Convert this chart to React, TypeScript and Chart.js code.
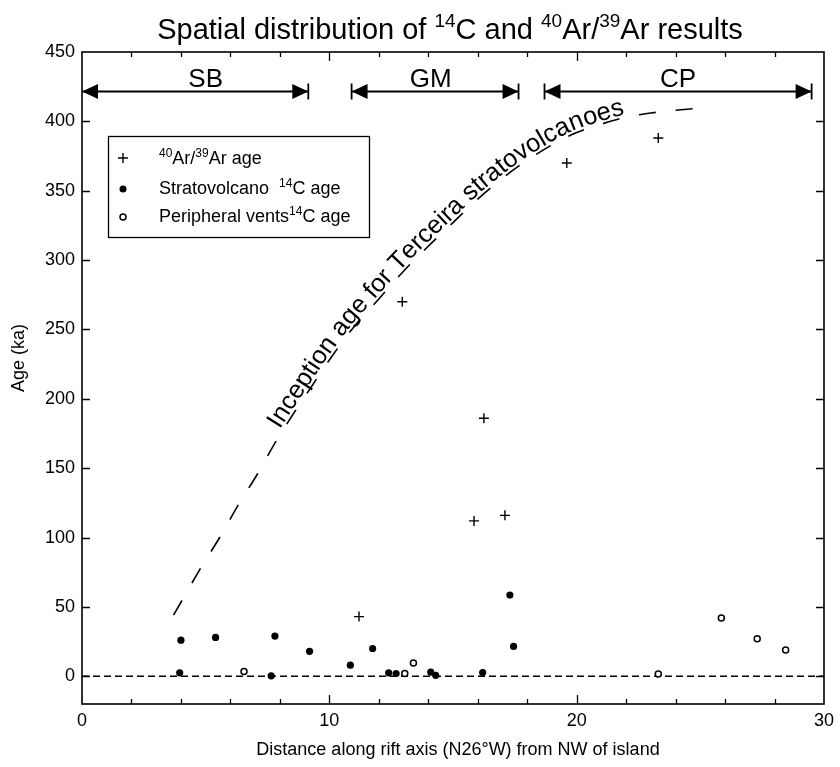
import React, { useEffect, useRef } from 'react';
import { Chart, registerables } from 'chart.js';

Chart.register(...registerables);

// ---------- data ----------
const arX = [11.2, 12.95, 15.85, 16.25, 17.1, 19.6, 23.3];
const arY = [43, 270, 112, 186, 116, 370, 388];

const stratoX = [4.0, 3.95, 5.4, 7.8, 7.65, 9.2, 10.85, 11.75, 12.4, 12.7, 14.1, 14.3, 16.2, 17.3, 17.45];
const stratoY = [26, 2.5, 28, 29, 0.3, 18, 8, 20, 2.5, 2, 3, 0.7, 2.7, 58.5, 21.5];

const periX = [6.55, 13.05, 13.4, 23.3, 25.85, 27.3, 28.45];
const periY = [3.5, 2, 9.5, 1.7, 42, 27, 19];

const curveX = [3.7, 4.8, 5.6, 6.3, 7.1, 7.8, 8.5, 9.25, 10, 11, 12, 13, 14, 15, 16, 17, 18, 19, 20, 21, 22, 23, 24, 25.25];
const curveY = [44, 78, 101, 123, 146, 168, 188, 208, 228, 252, 272, 292, 310, 327, 344, 359, 372, 383, 392, 398, 403, 406, 408, 410];

const zeroLineX = [0, 30];
const zeroLineY = [0, 0];

const zoneNames = ['SB', 'GM', 'CP'];
const zoneStart = [0, 10.9, 18.7];
const zoneEnd = [9.15, 17.65, 29.5];
const zoneLabelX = [5.0, 14.1, 24.1];
const zoneY = 422;

const xTicks = [0, 10, 20, 30];
const yTicks = [0, 50, 100, 150, 200, 250, 300, 350, 400, 450];

const curveText = 'Inception age for Terceira stratovolcanoes';
const curveTextStartX = 8.1;
const curveTextEndX = 22.0;

const FONT = '"Liberation Sans", Arial, Helvetica, sans-serif';

type Seg = { t: string; sup?: boolean };

const titleSegs: Seg[] = [
  { t: 'Spatial distribution of ' }, { t: '14', sup: true }, { t: 'C and ' },
  { t: '40', sup: true }, { t: 'Ar/' }, { t: '39', sup: true }, { t: 'Ar results' },
];
const legendRows: Seg[][] = [
  [{ t: '40', sup: true }, { t: 'Ar/' }, { t: '39', sup: true }, { t: 'Ar age' }],
  [{ t: 'Stratovolcano  ' }, { t: '14', sup: true }, { t: 'C age' }],
  [{ t: 'Peripheral vents' }, { t: '14', sup: true }, { t: 'C age' }],
];
const xTitle = 'Distance along rift axis (N26°W) from NW of island';
const yTitle = 'Age (ka)';

// ---------- helpers ----------
function richWidth(ctx: CanvasRenderingContext2D, segs: Seg[], size: number) {
  const sup = Math.round(size * 0.66);
  let w = 0;
  for (const s of segs) {
    ctx.font = `${s.sup ? sup : size}px ${FONT}`;
    w += ctx.measureText(s.t).width;
  }
  return w;
}
function drawRich(ctx: CanvasRenderingContext2D, segs: Seg[], x: number, y: number, size: number, align: 'left' | 'center') {
  const sup = Math.round(size * 0.66);
  const w = richWidth(ctx, segs, size);
  let cx = align === 'center' ? x - w / 2 : x;
  ctx.textAlign = 'left';
  ctx.textBaseline = 'alphabetic';
  for (const s of segs) {
    ctx.font = `${s.sup ? sup : size}px ${FONT}`;
    ctx.fillText(s.t, cx, s.sup ? y - size * 0.4 : y);
    cx += ctx.measureText(s.t).width;
  }
}

function bez(p0: number, p1: number, p2: number, p3: number, t: number) {
  const u = 1 - t;
  return u * u * u * p0 + 3 * u * u * t * p1 + 3 * u * t * t * p2 + t * t * t * p3;
}

const customPlugin = {
  id: 'custom',
  afterDatasetsDraw(chart: any) {
    const ctx: CanvasRenderingContext2D = chart.ctx;
    const { left, right, top, bottom } = chart.chartArea;
    const xs = chart.scales.x;
    const ys = chart.scales.y;
    ctx.save();
    ctx.fillStyle = '#000';
    ctx.strokeStyle = '#000';

    // frame
    ctx.lineWidth = 1.6;
    ctx.strokeRect(left, top, right - left, bottom - top);

    // inward ticks
    ctx.lineWidth = 1.3;
    ctx.beginPath();
    for (let v = 2; v < 30; v += 2) {
      const px = Math.round(xs.getPixelForValue(v)) + 0.5;
      const len = v % 10 === 0 ? 9 : 5;
      ctx.moveTo(px, bottom); ctx.lineTo(px, bottom - len);
      ctx.moveTo(px, top); ctx.lineTo(px, top + len);
    }
    for (const v of yTicks) {
      if (v >= 450) continue;
      const py = Math.round(ys.getPixelForValue(v)) + 0.5;
      ctx.moveTo(left, py); ctx.lineTo(left + 8, py);
      ctx.moveTo(right, py); ctx.lineTo(right - 8, py);
    }
    ctx.stroke();

    // zone arrows
    const ay = Math.round(ys.getPixelForValue(zoneY)) + 0.5;
    ctx.lineWidth = 1.8;
    for (let i = 0; i < zoneNames.length; i++) {
      const x0 = xs.getPixelForValue(zoneStart[i]);
      const x1 = xs.getPixelForValue(zoneEnd[i]);
      ctx.beginPath();
      ctx.moveTo(x0, ay); ctx.lineTo(x1, ay);
      ctx.stroke();
      // left triangle
      ctx.beginPath();
      ctx.moveTo(x0, ay); ctx.lineTo(x0 + 16, ay - 7.5); ctx.lineTo(x0 + 16, ay + 7.5); ctx.closePath();
      ctx.fill();
      // right triangle
      ctx.beginPath();
      ctx.moveTo(x1, ay); ctx.lineTo(x1 - 16, ay - 7.5); ctx.lineTo(x1 - 16, ay + 7.5); ctx.closePath();
      ctx.fill();
      // bars
      ctx.beginPath();
      if (i > 0) { ctx.moveTo(x0, ay - 8); ctx.lineTo(x0, ay + 8); }
      ctx.moveTo(x1, ay - 8); ctx.lineTo(x1, ay + 8);
      ctx.stroke();
      ctx.font = `26px ${FONT}`;
      ctx.textAlign = 'center';
      ctx.textBaseline = 'alphabetic';
      ctx.fillText(zoneNames[i], xs.getPixelForValue(zoneLabelX[i]), ay - 5);
    }

    // legend box
    const bx = left + 26, by = top + 84, bw = 261, bh = 101;
    ctx.fillStyle = '#fff';
    ctx.fillRect(bx, by, bw, bh);
    ctx.fillStyle = '#000';
    ctx.lineWidth = 1.3;
    ctx.strokeRect(bx + 0.5, by + 0.5, bw, bh);
    const mx = bx + 15;
    const rowsY = [by + 28, by + 58, by + 86];
    // marker 1: cross
    ctx.lineWidth = 1.4;
    ctx.beginPath();
    ctx.moveTo(mx - 5, rowsY[0] - 6); ctx.lineTo(mx + 5, rowsY[0] - 6);
    ctx.moveTo(mx, rowsY[0] - 11); ctx.lineTo(mx, rowsY[0] - 1);
    ctx.stroke();
    // marker 2: filled
    ctx.beginPath(); ctx.arc(mx, rowsY[1] - 5, 3.5, 0, Math.PI * 2); ctx.fill();
    // marker 3: open
    ctx.lineWidth = 1.5;
    ctx.beginPath(); ctx.arc(mx, rowsY[2] - 5, 3, 0, Math.PI * 2); ctx.stroke();
    for (let i = 0; i < legendRows.length; i++) {
      drawRich(ctx, legendRows[i], bx + 51, rowsY[i], 18, 'left');
    }

    // text along the curve
    const meta = chart.getDatasetMeta(4);
    const els: any[] = meta.data;
    const pts: { x: number; y: number }[] = [];
    for (let i = 0; i < els.length - 1; i++) {
      const a = els[i], b = els[i + 1];
      const has = a.cp2x !== undefined && b.cp1x !== undefined;
      for (let k = 0; k < 24; k++) {
        const t = k / 24;
        if (has) pts.push({ x: bez(a.x, a.cp2x, b.cp1x, b.x, t), y: bez(a.y, a.cp2y, b.cp1y, b.y, t) });
        else pts.push({ x: a.x + (b.x - a.x) * t, y: a.y + (b.y - a.y) * t });
      }
    }
    const last = els[els.length - 1];
    pts.push({ x: last.x, y: last.y });
    const cum = [0];
    for (let i = 1; i < pts.length; i++) cum.push(cum[i - 1] + Math.hypot(pts[i].x - pts[i - 1].x, pts[i].y - pts[i - 1].y));
    const sAtX = (px: number) => {
      for (let i = 0; i < pts.length - 1; i++) {
        if (pts[i].x <= px && pts[i + 1].x >= px) {
          const t = (px - pts[i].x) / (pts[i + 1].x - pts[i].x || 1);
          return cum[i] + t * (cum[i + 1] - cum[i]);
        }
      }
      return cum[cum.length - 1];
    };
    const pointAt = (s: number) => {
      for (let i = 0; i < pts.length - 1; i++) {
        if (cum[i + 1] >= s) {
          const t = (s - cum[i]) / (cum[i + 1] - cum[i] || 1);
          return {
            x: pts[i].x + (pts[i + 1].x - pts[i].x) * t,
            y: pts[i].y + (pts[i + 1].y - pts[i].y) * t,
            a: Math.atan2(pts[i + 1].y - pts[i].y, pts[i + 1].x - pts[i].x),
          };
        }
      }
      const n = pts.length - 1;
      return { x: pts[n].x, y: pts[n].y, a: Math.atan2(pts[n].y - pts[n - 1].y, pts[n].x - pts[n - 1].x) };
    };
    const s0 = sAtX(xs.getPixelForValue(curveTextStartX));
    const s1 = sAtX(xs.getPixelForValue(curveTextEndX));
    let size = 22;
    ctx.font = `${size}px ${FONT}`;
    let tw = 0;
    for (const ch of curveText) tw += ctx.measureText(ch).width;
    size = (size * (s1 - s0)) / tw;
    ctx.font = `${size}px ${FONT}`;
    ctx.textAlign = 'center';
    ctx.textBaseline = 'alphabetic';
    let cursor = s0;
    for (const ch of curveText) {
      const cw = ctx.measureText(ch).width;
      const p = pointAt(cursor + cw / 2);
      ctx.save();
      ctx.translate(p.x, p.y);
      ctx.rotate(p.a);
      ctx.fillText(ch, 0, -3);
      ctx.restore();
      cursor += cw;
    }

    // title
    drawRich(ctx, titleSegs, (left + right) / 2 - 3, 39, 29, 'center');

    // axis titles
    ctx.font = `18px ${FONT}`;
    ctx.textAlign = 'center';
    ctx.textBaseline = 'middle';
    ctx.fillText(xTitle, (left + right) / 2 + 5, 750);
    ctx.save();
    ctx.translate(19, 358);
    ctx.rotate(-Math.PI / 2);
    ctx.fillText(yTitle, 0, 0);
    ctx.restore();

    ctx.restore();
  },
};

export default function App() {
  const ref = useRef<HTMLCanvasElement | null>(null);
  useEffect(() => {
    document.body.style.margin = '0';
    const canvas = ref.current;
    if (!canvas) return;
    const chart = new Chart(canvas, {
      type: 'scatter',
      data: {
        datasets: [
          {
            label: 'Ar/Ar age',
            data: arX.map((x, i) => ({ x, y: arY[i] })),
            pointStyle: 'cross',
            pointRadius: 5,
            borderColor: '#000',
            backgroundColor: '#000',
            borderWidth: 1.4,
            order: 1,
          } as any,
          {
            label: 'Stratovolcano 14C age',
            data: stratoX.map((x, i) => ({ x, y: stratoY[i] })),
            pointStyle: 'circle',
            pointRadius: 3.6,
            borderWidth: 0,
            backgroundColor: '#000',
            borderColor: '#000',
            order: 2,
          } as any,
          {
            label: 'Peripheral vents 14C age',
            data: periX.map((x, i) => ({ x, y: periY[i] })),
            pointStyle: 'circle',
            pointRadius: 3,
            borderWidth: 1.5,
            backgroundColor: '#fff',
            borderColor: '#000',
            order: 0,
          } as any,
          {
            label: 'zero',
            data: zeroLineX.map((x, i) => ({ x, y: zeroLineY[i] })),
            showLine: true,
            pointRadius: 0,
            borderColor: '#000',
            borderWidth: 1.4,
            borderDash: [7, 4],
            order: 5,
          } as any,
          {
            label: 'inception',
            data: curveX.map((x, i) => ({ x, y: curveY[i] })),
            showLine: true,
            pointRadius: 0,
            borderColor: '#000',
            borderWidth: 1.6,
            borderDash: [17, 20],
            cubicInterpolationMode: 'monotone',
            order: 6,
          } as any,
        ],
      },
      options: {
        responsive: false,
        animation: false,
        events: [],
        layout: { padding: { left: 0, top: 52, right: 13, bottom: 0 } },
        plugins: { legend: { display: false }, title: { display: false }, tooltip: { enabled: false } },
        scales: {
          x: {
            type: 'linear',
            min: 0,
            max: 30,
            grid: { display: false, drawTicks: false },
            border: { display: false },
            afterBuildTicks: (s: any) => { s.ticks = xTicks.map((v) => ({ value: v })); },
            afterFit: (s: any) => { s.height = 63; },
            ticks: { color: '#000', padding: 6, font: { size: 18, family: FONT }, maxRotation: 0, autoSkip: false },
          },
          y: {
            type: 'linear',
            min: -20,
            max: 450,
            grid: { display: false, drawTicks: false },
            border: { display: false },
            afterBuildTicks: (s: any) => { s.ticks = yTicks.map((v) => ({ value: v })); },
            afterFit: (s: any) => { s.width = 82; },
            ticks: { color: '#000', padding: 7, font: { size: 18, family: FONT }, autoSkip: false },
          },
        },
      } as any,
      plugins: [customPlugin],
    });
    return () => chart.destroy();
  }, []);
  return (
    <div style={{ width: 840, height: 767 }}>
      <canvas ref={ref} width={840} height={767} style={{ display: 'block' }} />
    </div>
  );
}
